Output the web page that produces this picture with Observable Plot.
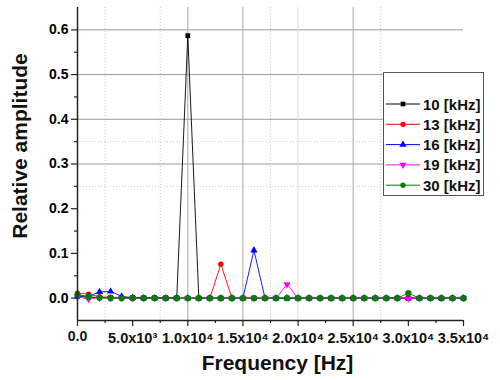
<!DOCTYPE html>
<html><head><meta charset="utf-8">
<script src="https://cdn.jsdelivr.net/npm/d3@7"></script>
<script src="https://cdn.jsdelivr.net/npm/@observablehq/plot@0.6"></script>
<style>
body{margin:0;background:#fff;}
#wrap{position:relative;width:500px;height:380px;font-family:"Liberation Sans",Arial,sans-serif;}
#wrap svg{position:absolute;left:0;top:0;}
</style></head><body><div id="wrap"></div>
<script>
// ---- data ----
const freq = [0,1000,2000,3000,4000,5000,6000,7000,8000,9000,10000,11000,12000,13000,14000,15000,16000,17000,
  18000,19000,20000,21000,22000,23000,24000,25000,26000,27000,28000,29000,30000,31000,32000,33000,34000,35000];
const seriesNames = ["10 [kHz]","13 [kHz]","16 [kHz]","19 [kHz]","30 [kHz]"];
const seriesColors = ["#000000","#ff0000","#0000ff","#ff00ff","#008000"];
const seriesSymbols = ["square","circle","triangle","triangle","circle"];
const seriesRotate = [0,0,0,180,0];
const seriesRadius = [2.7,2.7,2.7,2.7,3.1];
const amp10 = [0.004,0.002,0.001,0.001,0.001,0.001,0.001,0.001,0.001,0.001,0.587,0.000,0.000,0.000,0.000,0.000,0.000,0.000,
  0.000,0.000,0.000,0.000,0.000,0.000,0.000,0.000,0.000,0.000,0.000,0.000,0.000,0.000,0.000,0.000,0.000,0.000];
const amp13 = [0.011,0.009,0.003,0.002,0.001,0.000,0.000,0.000,0.000,0.000,0.000,0.000,0.000,0.076,0.000,0.000,0.000,0.000,
  0.000,0.000,0.000,0.000,0.000,0.000,0.000,0.000,0.000,0.000,0.000,0.000,0.000,0.000,0.000,0.000,0.000,0.000];
const amp16 = [0.006,0.004,0.014,0.015,0.004,0.001,0.000,0.000,0.000,0.000,0.000,0.000,0.000,0.000,0.000,0.000,0.107,0.000,
  0.000,0.000,0.000,0.000,0.000,0.000,0.000,0.000,0.000,0.000,0.000,0.000,0.000,0.000,0.000,0.000,0.000,0.000];
const amp19 = [0.003,-0.002,0.001,0.000,0.000,0.000,0.000,0.000,0.000,0.000,0.000,0.000,0.000,0.000,0.000,0.000,0.000,0.000,
  0.000,0.031,0.000,0.000,0.000,0.000,0.000,0.000,0.000,0.000,0.000,0.000,-0.001,0.000,0.000,0.000,0.000,0.000];
const amp30 = [0.008,0.003,0.001,0.000,0.000,0.000,0.000,0.000,0.000,0.000,0.000,0.000,0.000,0.000,0.000,0.000,0.000,0.000,
  0.000,0.000,0.000,0.000,0.000,0.000,0.000,0.000,0.000,0.000,0.000,0.000,0.011,0.000,0.000,0.000,0.000,0.000];
const seriesValues = [amp10,amp13,amp16,amp19,amp30];

const yTicks = [0,0.1,0.2,0.3,0.4,0.5,0.6];
const yMinorTicks = [0.05,0.15,0.25,0.35,0.45,0.55];
const xTicks = [0,5000,10000,15000,20000,25000,30000,35000];
const xTickLabels = ["0.0","5.0x10³","1.0x10⁴","1.5x10⁴","2.0x10⁴","2.5x10⁴","3.0x10⁴","3.5x10⁴"];
const xMinorTicks = [2500,7500,12500,17500,22500,27500,32500];
const xGridSolid = [10000,15000,25000];
const xGridLight = [20000];
const xGridDotted = [2500,7500,17500,27500];
const yGridSolid = [0.3,0.4,0.5,0.6];
const yGridDotted = [0.25,0.35];

// ---- build ----
const font = "'Liberation Sans', Arial, sans-serif";
const seriesMarks = [];
seriesNames.forEach((name, k) => {
  const rows = freq.map((f, i) => ({f, a: seriesValues[k][i]}));
  seriesMarks.push(Plot.line(rows, {x: "f", y: "a", stroke: seriesColors[k], strokeWidth: 0.9}));
  seriesMarks.push(Plot.dot(rows, {x: "f", y: "a", fill: seriesColors[k], stroke: "none",
    symbol: seriesSymbols[k], rotate: seriesRotate[k], r: seriesRadius[k]}));
});

const chart = Plot.plot({
  width: 500, height: 380,
  marginLeft: 77, marginRight: 37, marginTop: 7, marginBottom: 60,
  style: {fontFamily: font, fontWeight: "bold", color: "#000", background: "#fff", overflow: "visible"},
  x: {domain: [0, 35000], axis: null},
  y: {domain: [-0.05, 0.65], axis: null},
  marks: [
    Plot.ruleY(yGridSolid, {stroke: "#9a9a9a", strokeWidth: 1}),
    Plot.ruleY(yGridDotted, {stroke: "#c8c8c8", strokeWidth: 1, strokeDasharray: "1,2"}),
    Plot.ruleX(xGridSolid, {stroke: "#a8a8a8", strokeWidth: 1}),
    Plot.ruleX(xGridLight, {stroke: "#dddddd", strokeWidth: 1}),
    Plot.ruleX(xGridDotted, {stroke: "#c8c8c8", strokeWidth: 1, strokeDasharray: "1,2"}),
    ...seriesMarks,
    Plot.axisY(yTicks, {label: null, tickSize: 6, tickPadding: 3, tickFormat: d3.format(".1f"), fontSize: 14, fontWeight: "bold", stroke: "#222", strokeWidth: 1.2}),
    Plot.axisY(yMinorTicks, {label: null, tickSize: 3, tickFormat: () => "", stroke: "#222", strokeWidth: 1.2}),
    Plot.axisX(xTicks, {label: null, tickSize: 6, tickFormat: () => "", stroke: "#222", strokeWidth: 1.2}),
    Plot.axisX(xMinorTicks, {label: null, tickSize: 3, tickFormat: () => "", stroke: "#222", strokeWidth: 1.2}),
    Plot.text(xTicks.slice(0, 1), {x: d => d, text: d => xTickLabels[xTicks.indexOf(d)], frameAnchor: "bottom", textAnchor: "middle", dy: 20, fontSize: 14, fontWeight: "bold", fill: "#111"}),
    Plot.text(xTicks.slice(1), {x: d => d, text: d => xTickLabels[xTicks.indexOf(d)], frameAnchor: "bottom", textAnchor: "middle", dy: 22, fontSize: 14.5, fontWeight: "bold", fill: "#111"}),
    Plot.ruleX([0], {stroke: "#222", strokeWidth: 1.5}),
    Plot.ruleY([-0.05], {stroke: "#222", strokeWidth: 1.5}),
    Plot.text(["Frequency [Hz]"], {frameAnchor: "bottom", textAnchor: "middle", dx: 7, dy: 49, fontSize: 21, fontWeight: "bold", fill: "#111"}),
    Plot.text(["Relative amplitude"], {frameAnchor: "left", textAnchor: "middle", dx: -57, dy: -18, rotate: -90, fontSize: 21, fontWeight: "bold", fill: "#111"})
  ]
});
document.getElementById("wrap").appendChild(chart);

// ---- legend (inside plot area) ----
const leg = d3.select("#wrap").append("svg").attr("width", 500).attr("height", 380)
  .style("pointer-events", "none");
leg.append("rect").attr("x", 383.5).attr("y", 72.5).attr("width", 100).attr("height", 123)
  .attr("fill", "#fff").attr("stroke", "#555").attr("stroke-width", 1);
seriesNames.forEach((name, k) => {
  const y = 104 + k * 20.3;
  leg.append("line").attr("x1", 386).attr("x2", 420).attr("y1", y).attr("y2", y)
    .attr("stroke", seriesColors[k]).attr("stroke-width", 1);
  const sym = {square: d3.symbolSquare, circle: d3.symbolCircle, triangle: d3.symbolTriangle}[seriesSymbols[k]];
  leg.append("path").attr("d", d3.symbol(sym, 22)())
    .attr("transform", `translate(403,${y}) rotate(${seriesRotate[k]})`).attr("fill", seriesColors[k]);
  leg.append("text").attr("x", 423).attr("y", y + 5.5).attr("font-family", font).attr("font-weight", "bold")
    .attr("font-size", 15).attr("fill", "#111").text(name);
});
</script></body></html>
